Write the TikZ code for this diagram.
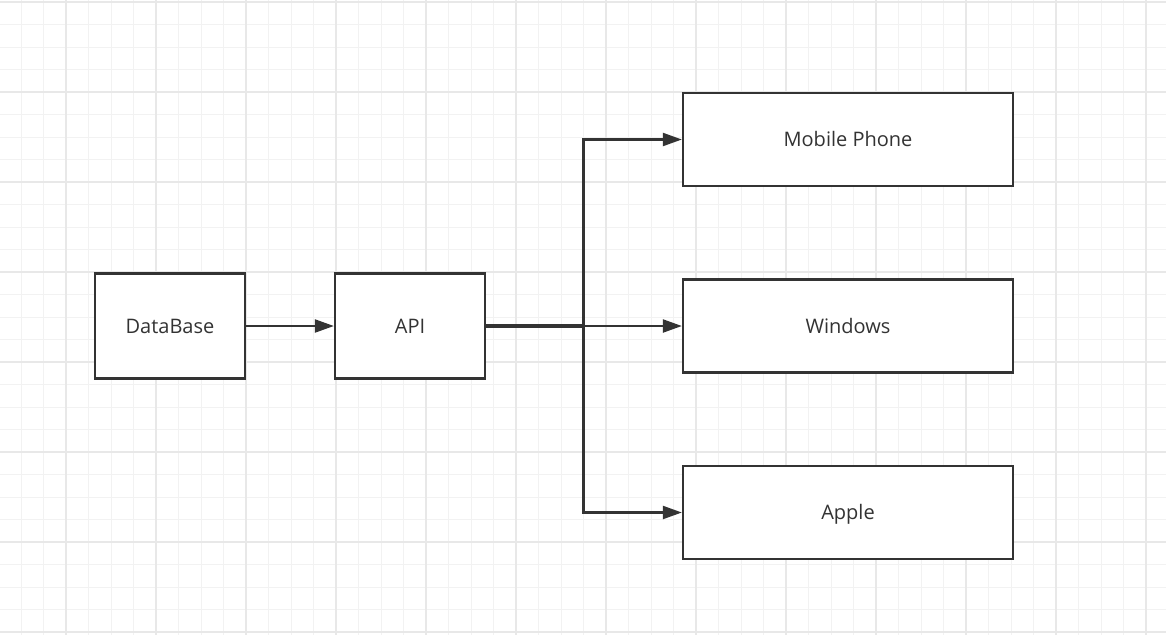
\documentclass[tikz,border=0pt]{standalone}
\usepackage{fontspec}
\setmainfont{Open Sans}
\usetikzlibrary{arrows.meta}
\definecolor{ink}{HTML}{333333}
\definecolor{gridminor}{HTML}{F2F2F2}
\definecolor{gridmajor}{HTML}{E8E8E8}
\tikzset{
  minorline/.style={draw=gridminor, line width=1pt},
  majorline/.style={draw=gridmajor, line width=1.2pt},
  box/.style={draw=ink, line width=2.3pt, fill=white, text=ink, inner sep=0pt,
    text height=14.3pt, text depth=0pt,
    font=\fontsize{20}{24}\selectfont},
  smallbox/.style={box, minimum width=150pt, minimum height=105pt},
  widebox/.style={box, minimum width=330pt, minimum height=93pt},
  arr/.style={draw=ink, line width=2.2pt, -{Triangle[length=19pt,width=13pt]}},
}
\begin{document}
\begin{tikzpicture}[x=1pt,y=-1pt]
\useasboundingbox (0,0) rectangle (1166,635);
\fill[white] (0,0) rectangle (1166,635);
% grid
\foreach \i in {0,...,52} { \draw[minorline] ({-1.5+22.5*\i},0) -- ++(0,635); }
\foreach \i in {0,...,28} { \draw[minorline] (0,{2+22.5*\i}) -- ++(1166,0); }
\foreach \i in {0,...,12} { \draw[majorline] ({66+90*\i},0) -- ++(0,635); }
\foreach \i in {0,...,7} { \draw[majorline] (0,{2+90*\i}) -- ++(1166,0); }
% nodes
\node[smallbox] (db) at (170,326) {DataBase};
\node[smallbox] (api) at (410,326) {API};
\node[widebox] (mob) at (848,139.5) {Mobile Phone};
\node[widebox] (win) at (848,326) {Windows};
\node[widebox] (app) at (848,512.5) {Apple};
\coordinate (trunk) at (583.5,326);
% connectors
\draw[arr] (db.east) -- (api.west);
\draw[arr] ([yshift=-1pt]api.east) -- ([yshift=-1pt]api.east -| trunk) |- (mob.west);
\draw[arr] (api.east) -- (win.west);
\draw[arr] ([yshift=1pt]api.east) -- ([yshift=1pt]api.east -| trunk) |- (app.west);
\end{tikzpicture}
\end{document}
